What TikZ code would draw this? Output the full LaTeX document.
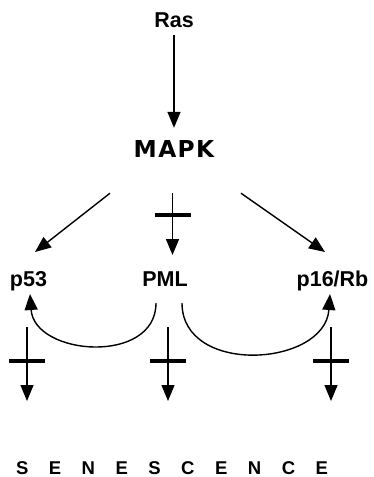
\documentclass[tikz,border=0pt]{standalone}
\usepackage{fontspec}
\setmainfont{Liberation Sans}
\newfontfamily\heavyfont[LetterSpace=6]{DejaVu Sans}
\usetikzlibrary{arrows.meta, calc, decorations.markings}

\begin{document}
\begin{tikzpicture}[x=1pt, y=1pt,
    lbl/.style={font=\fontsize{21.5}{24}\selectfont\bfseries, inner sep=0pt, anchor=base},
    arr/.style={-{Triangle[length=16pt, width=13pt]}, line width=1.4pt},
    blocked/.style={postaction={decorate}, decoration={markings,
        mark=at position #1 with {\draw[-, line width=4pt] (0,-18pt) -- (0,18pt);}}}
]
\useasboundingbox (0,0) rectangle (373,-477);

% Cascade
\node[lbl] (ras) at (174,-27) {Ras};
\node[lbl, font=\heavyfont\fontsize{23.3}{26}\selectfont\bfseries] (mapk) at (174,-157) {MAPK};

% Effectors
\node[lbl] (p53) at (28.5,-286) {p53};
\node[lbl] (pml) at (165,-286) {PML};
\node[lbl] (prb) at (332.5,-286) {p16/Rb};

% Outcome
\node[lbl, font=\fontsize{18.5}{20}\selectfont\bfseries] (sen) at (172,-474.5) {\spaceskip=20.5pt S E N E S C E N C E};

% Arrows
\draw[arr] ([yshift=-8pt]ras.south) -- ([yshift=12pt]mapk.north);
\draw[arr] ([shift={(-64,-36)}]mapk.south) -- ([shift={(6.5,34)}]p53.base);
\draw[arr] ([shift={(67,-36)}]mapk.south) -- ([shift={(-7.5,34)}]prb.base);
\draw[arr, blocked=.35] ([shift={(-1.5,-36)}]mapk.south) -- ([shift={(7.5,31)}]pml.base);

% PML feeds p53 and p16/Rb
\draw[arr] ([shift={(-9,-17)}]pml.base) to[out=-90, in=-86, looseness=1.26] ([shift={(1.5,-8)}]p53.base);
\draw[arr] ([shift={(17,-17)}]pml.base) to[out=-90, in=-94, looseness=1.26] ([shift={(-2.5,-8)}]prb.base);

% Blocked routes to senescence
\foreach \n/\dx in {p53/-1.5, pml/3, prb/-1.5}
  \draw[arr, blocked=.46] ([shift={(\dx,-41)}]\n.base) -- ($(\n.base |- sen.base)+(\dx,73.5)$);
\end{tikzpicture}
\end{document}
